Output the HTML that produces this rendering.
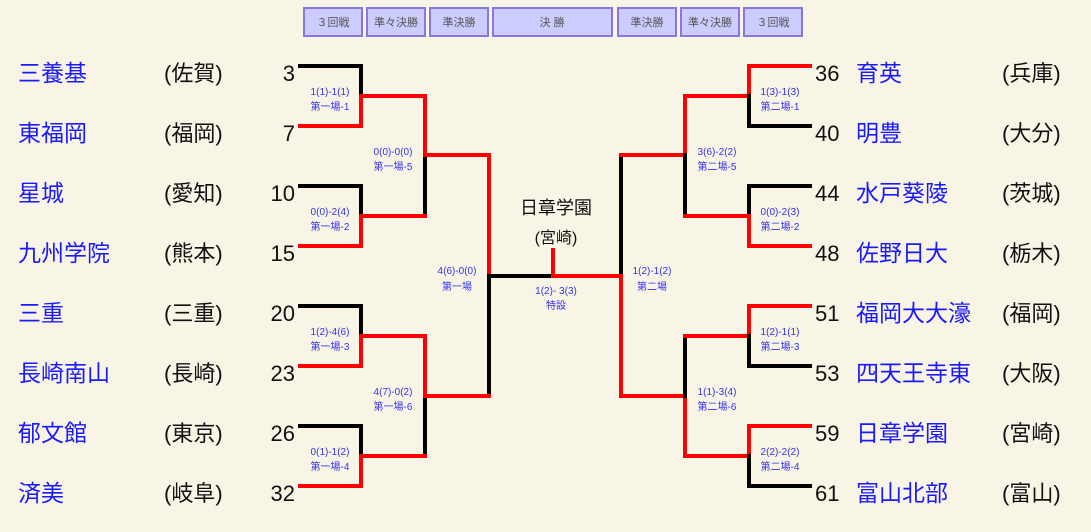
<!DOCTYPE html>
<html><head><meta charset="utf-8"><style>
html,body{margin:0;padding:0;background:#f8f4e6;}
svg{display:block}
.h{font-family:"Liberation Sans","Noto Sans CJK JP",sans-serif;font-size:11px;fill:#555;text-anchor:middle}
.n{font-family:"Liberation Sans","Noto Sans CJK JP",sans-serif;font-size:23px;fill:#1a1aff}
.p{font-family:"Liberation Sans","Noto Sans CJK JP",sans-serif;font-size:22px;fill:#111}
.s{font-family:"Liberation Sans","Noto Sans CJK JP",sans-serif;font-size:10px;fill:#3333ee;text-anchor:middle}
</style></head><body>
<svg width="1091" height="532" xmlns="http://www.w3.org/2000/svg">
<g>
<rect x="304" y="8" width="58" height="28" fill="#ccccff" stroke="#8877dd" stroke-width="2"/>
<rect x="367" y="8" width="58" height="28" fill="#ccccff" stroke="#8877dd" stroke-width="2"/>
<rect x="430" y="8" width="58" height="28" fill="#ccccff" stroke="#8877dd" stroke-width="2"/>
<rect x="493" y="8" width="119" height="28" fill="#ccccff" stroke="#8877dd" stroke-width="2"/>
<rect x="618" y="8" width="58" height="28" fill="#ccccff" stroke="#8877dd" stroke-width="2"/>
<rect x="681" y="8" width="58" height="28" fill="#ccccff" stroke="#8877dd" stroke-width="2"/>
<rect x="744" y="8" width="58" height="28" fill="#ccccff" stroke="#8877dd" stroke-width="2"/>
<text class="h" x="333" y="26">３回戦</text>
<text class="h" x="396" y="26">準々決勝</text>
<text class="h" x="459" y="26">準決勝</text>
<text class="h" x="552" y="26">決 勝</text>
<text class="h" x="647" y="26">準決勝</text>
<text class="h" x="710" y="26">準々決勝</text>
<text class="h" x="773" y="26">３回戦</text>
</g>
<g stroke-width="4" fill="none" stroke-linecap="square">
<path d="M300 66H361V96" stroke="#000"/><path d="M300 126H361V96" stroke="#f00"/>
<path d="M300 186H361V216" stroke="#000"/><path d="M300 246H361V216" stroke="#f00"/>
<path d="M300 306H361V336" stroke="#000"/><path d="M300 366H361V336" stroke="#f00"/>
<path d="M300 426H361V456" stroke="#000"/><path d="M300 486H361V456" stroke="#f00"/>
<path d="M361 96H425V155" stroke="#f00"/><path d="M425 155V216" stroke="#000"/><path d="M361 216H425" stroke="#f00"/>
<path d="M361 336H425V396" stroke="#f00"/><path d="M425 396V456" stroke="#000"/><path d="M361 456H425" stroke="#f00"/>
<path d="M425 155H489V276" stroke="#f00"/><path d="M489 276V396" stroke="#000"/><path d="M425 396H489" stroke="#f00"/>
<path d="M489 276H553" stroke="#000"/><path d="M553 250V276H621" stroke="#f00"/>
<path d="M621 276V155" stroke="#000"/><path d="M621 276V396" stroke="#f00"/>
<path d="M621 155H685V96" stroke="#f00"/><path d="M685 155V216" stroke="#000"/><path d="M685 216H749" stroke="#f00"/>
<path d="M621 396H685V456H749" stroke="#f00"/><path d="M685 396V336" stroke="#000"/><path d="M685 336H749" stroke="#f00"/>
<path d="M685 96H749" stroke="#f00"/>
<path d="M749 96V66H810" stroke="#f00"/><path d="M749 96V126H810" stroke="#000"/>
<path d="M749 216V186H810" stroke="#000"/><path d="M749 216V246H810" stroke="#f00"/>
<path d="M749 336V306H810" stroke="#f00"/><path d="M749 336V366H810" stroke="#000"/>
<path d="M749 456V426H810" stroke="#f00"/><path d="M749 456V486H810" stroke="#000"/>
</g>
<g>
<text class="n" x="18" y="81">三養基</text>
<text class="n" x="18" y="141">東福岡</text>
<text class="n" x="18" y="201">星城</text>
<text class="n" x="18" y="261">九州学院</text>
<text class="n" x="18" y="321">三重</text>
<text class="n" x="18" y="381">長崎南山</text>
<text class="n" x="18" y="441">郁文館</text>
<text class="n" x="18" y="501">済美</text>
<text class="n" x="856" y="81">育英</text>
<text class="n" x="856" y="141">明豊</text>
<text class="n" x="856" y="201">水戸葵陵</text>
<text class="n" x="856" y="261">佐野日大</text>
<text class="n" x="856" y="321">福岡大大濠</text>
<text class="n" x="856" y="381">四天王寺東</text>
<text class="n" x="856" y="441">日章学園</text>
<text class="n" x="856" y="501">富山北部</text>
</g>
<g>
<text class="p" x="164" y="81">(佐賀)</text>
<text class="p" x="164" y="141">(福岡)</text>
<text class="p" x="164" y="201">(愛知)</text>
<text class="p" x="164" y="261">(熊本)</text>
<text class="p" x="164" y="321">(三重)</text>
<text class="p" x="164" y="381">(長崎)</text>
<text class="p" x="164" y="441">(東京)</text>
<text class="p" x="164" y="501">(岐阜)</text>
<text class="p" x="1002" y="81">(兵庫)</text>
<text class="p" x="1002" y="141">(大分)</text>
<text class="p" x="1002" y="201">(茨城)</text>
<text class="p" x="1002" y="261">(栃木)</text>
<text class="p" x="1002" y="321">(福岡)</text>
<text class="p" x="1002" y="381">(大阪)</text>
<text class="p" x="1002" y="441">(宮崎)</text>
<text class="p" x="1002" y="501">(富山)</text>
</g>
<g>
<text class="p" x="295" y="81" text-anchor="end">3</text>
<text class="p" x="295" y="141" text-anchor="end">7</text>
<text class="p" x="295" y="201" text-anchor="end">10</text>
<text class="p" x="295" y="261" text-anchor="end">15</text>
<text class="p" x="295" y="321" text-anchor="end">20</text>
<text class="p" x="295" y="381" text-anchor="end">23</text>
<text class="p" x="295" y="441" text-anchor="end">26</text>
<text class="p" x="295" y="501" text-anchor="end">32</text>
</g>
<g>
<text class="p" x="815" y="81">36</text>
<text class="p" x="815" y="141">40</text>
<text class="p" x="815" y="201">44</text>
<text class="p" x="815" y="261">48</text>
<text class="p" x="815" y="321">51</text>
<text class="p" x="815" y="381">53</text>
<text class="p" x="815" y="441">59</text>
<text class="p" x="815" y="501">61</text>
</g>
<g>
<text class="s" x="330" y="95">1(1)-1(1)</text><text class="s" x="330" y="110">第一場-1</text>
<text class="s" x="330" y="215">0(0)-2(4)</text><text class="s" x="330" y="230">第一場-2</text>
<text class="s" x="330" y="335">1(2)-4(6)</text><text class="s" x="330" y="350">第一場-3</text>
<text class="s" x="330" y="455">0(1)-1(2)</text><text class="s" x="330" y="470">第一場-4</text>
<text class="s" x="393" y="155">0(0)-0(0)</text><text class="s" x="393" y="170">第一場-5</text>
<text class="s" x="393" y="395">4(7)-0(2)</text><text class="s" x="393" y="410">第一場-6</text>
<text class="s" x="457" y="274">4(6)-0(0)</text><text class="s" x="457" y="290">第一場</text>
<text class="s" x="556" y="294">1(2)- 3(3)</text><text class="s" x="556" y="309">特設</text>
<text class="s" x="652" y="274">1(2)-1(2)</text><text class="s" x="652" y="290">第二場</text>
<text class="s" x="717" y="155">3(6)-2(2)</text><text class="s" x="717" y="170">第二場-5</text>
<text class="s" x="717" y="395">1(1)-3(4)</text><text class="s" x="717" y="410">第二場-6</text>
<text class="s" x="780" y="95">1(3)-1(3)</text><text class="s" x="780" y="110">第二場-1</text>
<text class="s" x="780" y="215">0(0)-2(3)</text><text class="s" x="780" y="230">第二場-2</text>
<text class="s" x="780" y="335">1(2)-1(1)</text><text class="s" x="780" y="350">第二場-3</text>
<text class="s" x="780" y="455">2(2)-2(2)</text><text class="s" x="780" y="470">第二場-4</text>
</g>
<text x="556" y="214" text-anchor="middle" font-family="Liberation Sans, Noto Sans CJK JP, sans-serif" font-size="18" fill="#111">日章学園</text>
<text x="556" y="243" text-anchor="middle" font-family="Liberation Sans, Noto Sans CJK JP, sans-serif" font-size="16" fill="#111">(宮崎)</text>
</svg>
</body></html>
